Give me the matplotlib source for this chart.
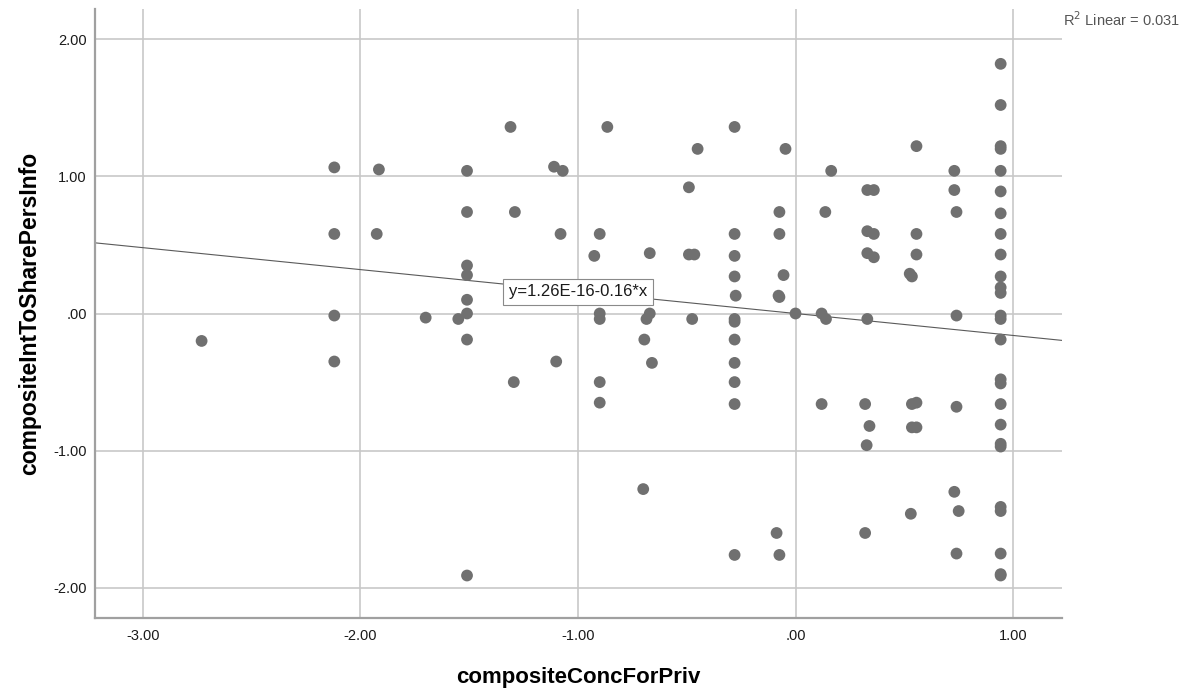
import matplotlib
matplotlib.use("Agg")
import matplotlib.pyplot as plt
import numpy as np

plt.rcParams['font.family'] = ['Liberation Sans', 'DejaVu Sans']

# composite scores (x: concern for privacy, y: intention to share personal info)
conc_for_priv = [
    -2.73,
    -2.12, -2.12, -2.12, -2.12,
    -1.915, -1.925,
    -1.70, -1.55,
    -1.51, -1.51, -1.51, -1.51, -1.51, -1.51, -1.51, -1.51,
    -1.31, -1.29, -1.295,
    -1.11, -1.07, -1.10, -1.08,
    -0.925, -0.90, -0.90, -0.90, -0.90, -0.90, -0.865,
    -0.695, -0.70, -0.67, -0.67, -0.685, -0.66,
    -0.49, -0.49, -0.465, -0.475, -0.45,
    -0.28, -0.28, -0.28, -0.28, -0.275, -0.28, -0.28, -0.28, -0.28, -0.28, -0.28, -0.28,
    -0.074, -0.074, -0.046, -0.055, -0.078, -0.074, -0.087, -0.074,
    0.0,
    0.12, 0.14, 0.137, 0.164, 0.12,
    0.33, 0.36, 0.33, 0.36, 0.33, 0.36, 0.33, 0.32, 0.34, 0.327, 0.32,
    0.556, 0.556, 0.556, 0.535, 0.525, 0.556, 0.535, 0.556, 0.535, 0.53,
    0.73, 0.73, 0.74, 0.74, 0.74, 0.73, 0.75, 0.74,
    0.943, 0.943, 0.943, 0.943, 0.943, 0.943, 0.943, 0.943, 0.943, 0.943,
    0.943, 0.943, 0.943, 0.943, 0.943, 0.943, 0.943, 0.943, 0.943, 0.943,
    0.943, 0.943, 0.943, 0.943, 0.943, 0.943,
]
int_to_share = [
    -0.20,
    1.065, 0.58, -0.015, -0.35,
    1.05, 0.58,
    -0.03, -0.04,
    1.04, 0.74, 0.35, 0.28, 0.10, 0.0, -0.19, -1.91,
    1.36, 0.74, -0.50,
    1.07, 1.04, -0.35, 0.58,
    0.42, 0.58, 0.0, -0.04, -0.50, -0.65, 1.36,
    -0.19, -1.28, 0.44, 0.0, -0.04, -0.36,
    0.92, 0.43, 0.43, -0.04, 1.20,
    1.36, 0.58, 0.42, 0.27, 0.13, -0.04, -0.06, -0.19, -0.36, -0.50, -0.66, -1.76,
    0.74, 0.58, 1.20, 0.28, 0.13, 0.12, -1.60, -1.76,
    0.0,
    0.0, -0.04, 0.74, 1.04, -0.66,
    0.90, 0.90, 0.60, 0.58, 0.44, 0.41, -0.04, -0.66, -0.82, -0.96, -1.60,
    1.22, 0.58, 0.43, 0.27, 0.29, -0.65, -0.66, -0.83, -0.83, -1.46,
    1.04, 0.90, 0.74, -0.015, -0.68, -1.30, -1.44, -1.75,
    1.82, 1.52, 1.22, 1.20, 1.04, 0.89, 0.73, 0.58, 0.43, 0.27,
    0.19, 0.15, -0.015, -0.04, -0.19, -0.48, -0.51, -0.66, -0.81, -0.95,
    -0.97, -1.41, -1.44, -1.75, -1.90, -1.91,
]

x_ticks = [-3.0, -2.0, -1.0, 0.0, 1.0]
x_tick_labels = ['-3.00', '-2.00', '-1.00', '.00', '1.00']
y_ticks = [-2.0, -1.0, 0.0, 1.0, 2.0]
y_tick_labels = ['-2.00', '-1.00', '.00', '1.00', '2.00']

intercept = 1.26e-16
slope = -0.16
r_squared = 0.031

fig = plt.figure(figsize=(11.89, 6.90), dpi=100)
ax = fig.add_axes([0.0799, 0.1043, 0.8133, 0.8827])

ax.set_xlim(-3.22, 1.225)
ax.set_ylim(-2.22, 2.22)

ax.set_xticks(x_ticks)
ax.set_xticklabels(x_tick_labels)
ax.set_yticks(y_ticks)
ax.set_yticklabels(y_tick_labels)
ax.tick_params(length=0, labelsize=10.5, colors='#1a1a1a')
ax.tick_params(axis='x', pad=8)
ax.tick_params(axis='y', pad=6)

ax.grid(True, color='#c8c8c8', linewidth=1.2)
ax.set_axisbelow(True)

for side in ['top', 'right']:
    ax.spines[side].set_visible(False)
for side in ['left', 'bottom']:
    ax.spines[side].set_color('#a0a0a0')
    ax.spines[side].set_linewidth(1.6)

ax.scatter(conc_for_priv, int_to_share, s=72, color='#707070',
           edgecolors='none', zorder=3)

# fit line across the whole x range
xs = np.array(ax.get_xlim())
ax.plot(xs, intercept + slope * xs, color='#5a5a5a', linewidth=0.8, zorder=2)

ax.text(-1.0, 0.157, f'y={intercept:.2E}{slope:+.2f}*x',
        ha='center', va='center', fontsize=12, color='#1a1a1a', zorder=4,
        bbox=dict(boxstyle='square,pad=0.35', facecolor='white',
                  edgecolor='#8a8a8a', linewidth=0.8))

fig.text(1063 / 1189, 1 - 20 / 690, f'R$^2$ Linear = {r_squared:.3f}',
         ha='left', va='center', fontsize=10.5, color='#555555')

ax.set_xlabel('compositeConcForPriv', fontsize=16, fontweight='bold')
ax.set_ylabel('compositeIntToSharePersInfo', fontsize=16.5, fontweight='bold')
ax.xaxis.set_label_coords(0.5, -0.0969)
ax.xaxis.label.set_va('center')
ax.yaxis.set_label_coords(-0.0672, 0.5)
ax.yaxis.label.set_va('center')

fig.savefig('out.png', dpi=100, facecolor='white')
